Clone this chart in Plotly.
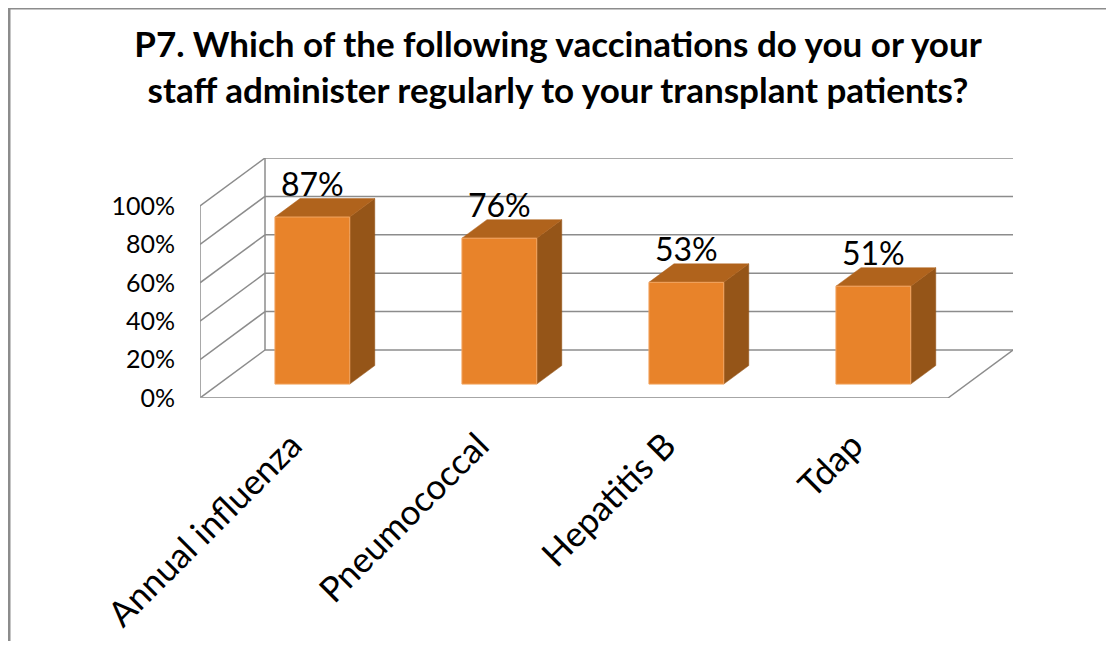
import plotly.graph_objects as go

# ---- data ----
categories = ["Annual influenza", "Pneumococcal", "Hepatitis B", "Tdap"]
values = [87, 76, 53, 51]
value_labels = ["87%", "76%", "53%", "51%"]
y_ticks = [0, 20, 40, 60, 80, 100]
y_tick_labels = ["0%", "20%", "40%", "60%", "80%", "100%"]
title_text = ("P7. Which of the following vaccinations do you or your<br>"
              "staff administer regularly to your transplant patients?")

# ---- oblique 3D projection settings ----
DX = 0.3476   # horizontal shift of the back wall (category units)
DY = 25.0     # vertical shift of the back wall (percent units)
BAR_W = 0.40  # bar front width (category units)
D0, D1 = 0.29, 0.675  # bar depth start / end (fraction of depth)

FRONT = "#E8832A"
TOP = "#B0631C"
SIDE = "#955518"
EDGE = "#F2A560"
GRID = "#8C8C8C"

W, H = 1100, 633
ML, MR, MT, MB = 192, 95, 150, 243
PW, PH = W - ML - MR, H - MT - MB

def P(c, v, d):
    return c + d * DX, v + d * DY

fig = go.Figure()

def line(pts, color=GRID, width=1.5):
    xs, ys = zip(*[P(*p) for p in pts])
    fig.add_trace(go.Scatter(x=list(xs), y=list(ys), mode="lines",
                             line=dict(color=color, width=width),
                             hoverinfo="skip", showlegend=False))

def poly(pts, fill, edge=None):
    xs, ys = zip(*[P(*p) for p in pts + [pts[0]]])
    fig.add_trace(go.Scatter(x=list(xs), y=list(ys), mode="lines", fill="toself",
                             fillcolor=fill,
                             line=dict(color=edge or fill, width=1 if edge else 0.5),
                             hoverinfo="skip", showlegend=False))

n = len(categories)
# back wall gridlines and left wall lines
for v in y_ticks:
    line([(0, v, 1), (n, v, 1)])
    line([(0, v, 0), (0, v, 1)])
line([(0, 0, 0), (0, y_ticks[-1], 0)])
line([(0, 0, 1), (0, y_ticks[-1], 1)])
# floor
line([(0, 0, 0), (n, 0, 0)], color="#A6A6A6", width=2)
line([(n, 0, 0), (n, 0, 1)])

# bars
for i, v in enumerate(values):
    cl = i + 0.5 - BAR_W / 2
    cr = i + 0.5 + BAR_W / 2
    poly([(cr, 0, D0), (cr, 0, D1), (cr, v, D1), (cr, v, D0)], SIDE)
    poly([(cl, v, D0), (cr, v, D0), (cr, v, D1), (cl, v, D1)], TOP)
    poly([(cl, 0, D0), (cr, 0, D0), (cr, v, D0), (cl, v, D0)], FRONT, EDGE)
    lx, ly = P(i + 0.5, v, D0)
    _, ly2 = P(i + 0.5, v, D1)
    fig.add_annotation(x=lx, y=ly2, text=value_labels[i], showarrow=False,
                       xanchor="center", yanchor="bottom", yshift=-6,
                       font=dict(family="Lato", size=32, color="black"))

fig.update_layout(
    width=W, height=H,
    margin=dict(l=ML, r=MR, t=MT, b=MB, autoexpand=False),
    paper_bgcolor="white", plot_bgcolor="white",
    title=dict(text=title_text, x=0.5, xanchor="center",
               y=1 - 49 / H, yanchor="middle", yref="container",
               font=dict(family="Lato", size=35, color="black", weight="bold")),
    xaxis=dict(range=[0, n + DX], showgrid=False, zeroline=False, showline=False,
               tickmode="array", tickvals=[i + 0.49 for i in range(n)],
               ticktext=categories, tickangle=-45, ticks="",
               ticklabelstandoff=19,
               tickfont=dict(family="Lato", size=35, color="black")),
    yaxis=dict(range=[0, 100 + DY], showgrid=False, zeroline=False, showline=False,
               tickmode="array", tickvals=y_ticks, ticktext=y_tick_labels,
               ticks="", ticklabelstandoff=24,
               tickfont=dict(family="Lato", size=25, color="black")),
)
# outer frame: top and left edges only
fig.add_shape(type="line", xref="paper", yref="paper",
              x0=-ML / PW, x1=(1098 - ML) / PW,
              y0=(PH + MT - 0.5) / PH, y1=(PH + MT - 0.5) / PH,
              line=dict(color="#8C8C8C", width=2))
fig.add_shape(type="line", xref="paper", yref="paper",
              x0=(1 - ML) / PW, x1=(1 - ML) / PW,
              y0=(PH + MT) / PH, y1=-MB / PH,
              line=dict(color="#8C8C8C", width=3))

fig.write_html("out.html")
